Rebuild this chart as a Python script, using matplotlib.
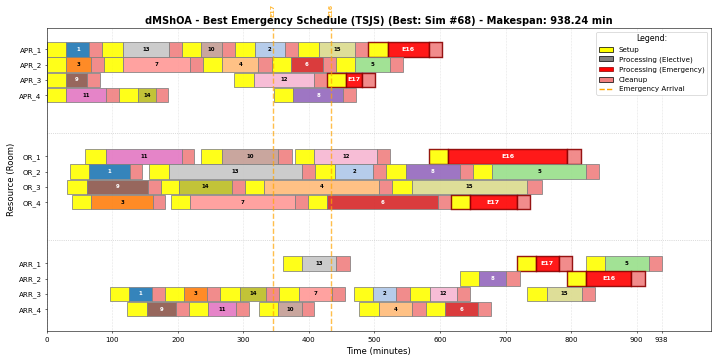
import numpy as np
import matplotlib
matplotlib.use("Agg")
import matplotlib.pyplot as plt
from matplotlib.patches import Patch
from matplotlib.lines import Line2D

## ************      Data       *********************
rooms = ["APR_1", "APR_2", "APR_3", "APR_4",
         "OR_1", "OR_2", "OR_3", "OR_4",
         "ARR_1", "ARR_2", "ARR_3", "ARR_4"]

# one entry per job: room, patient, setup start, processing start, processing end, cleanup end
job_room = ["APR_1"] * 6 + ["APR_2"] * 5 + ["APR_3"] * 3 + ["APR_4"] * 3 \
    + ["OR_1"] * 4 + ["OR_2"] * 5 + ["OR_3"] * 4 + ["OR_4"] * 4 \
    + ["ARR_1"] * 3 + ["ARR_2"] * 2 + ["ARR_3"] * 7 + ["ARR_4"] * 5
job_label = ["1", "13", "10", "2", "15", "E16",
             "3", "7", "4", "6", "5",
             "9", "12", "E17",
             "11", "14", "8",
             "11", "10", "12", "E16",
             "1", "13", "2", "8", "5",
             "9", "14", "4", "15",
             "3", "7", "6", "E17",
             "13", "E17", "5",
             "8", "E16",
             "1", "3", "14", "7", "2", "12", "15",
             "9", "11", "10", "4", "6"]
job_setup = [0, 85, 206, 287, 384, 490,
             0, 87, 239, 343, 441,
             0, 286, 428,
             0, 110, 346,
             59, 236, 378, 583,
             35, 156, 410, 518, 650,
             31, 174, 302, 527,
             38, 189, 398, 616,
             360, 717, 822,
             630, 794,
             97, 180, 265, 355, 468, 554, 733,
             123, 217, 324, 477, 578]
job_start = [30, 116, 236, 317, 415, 520,
             30, 117, 268, 372, 470,
             30, 316, 457,
             30, 140, 376,
             90, 267, 408, 612,
             65, 186, 440, 548, 680,
             62, 202, 332, 557,
             68, 219, 428, 645,
             390, 746, 852,
             660, 823,
             126, 210, 295, 385, 498, 584, 763,
             153, 246, 353, 507, 608]
job_end = [65, 186, 267, 364, 470, 583,
           67, 218, 323, 421, 523,
           62, 408, 481,
           90, 166, 452,
           206, 353, 504, 794,
           127, 390, 498, 630, 822,
           154, 282, 507, 733,
           162, 378, 597, 717,
           442, 781, 918,
           700, 892,
           160, 245, 334, 435, 533, 626, 817,
           197, 288, 389, 557, 658]
job_clean = [85, 206, 287, 384, 490, 603,
             87, 239, 343, 441, 543,
             82, 428, 501,
             110, 185, 472,
             225, 374, 524, 815,
             146, 410, 518, 650, 842,
             174, 302, 527, 755,
             181, 398, 616, 737,
             462, 801, 938.24,
             722, 912,
             180, 265, 355, 455, 554, 646, 837,
             217, 308, 408, 578, 678]

patient_colors = {"1": "#1f77b4", "2": "#aec7e8", "3": "#ff7f0e", "4": "#ffbb78",
                  "5": "#98df8a", "6": "#d62728", "7": "#ff9896", "8": "#9467bd",
                  "9": "#8c564b", "10": "#c49c94", "11": "#e377c2", "12": "#f7b6d2",
                  "13": "#c7c7c7", "14": "#bcbd22", "15": "#dbdb8d"}
white_text = ["1", "6", "8", "9"]

emerg_labels = ["E17", "E16"]
emerg_arrival = [345.5, 433]

makespan = 938.24
xticks = [0, 100, 200, 300, 400, 500, 600, 700, 800, 900, 938]

## ************      Plot       *********************
fig, ax = plt.subplots(figsize=(14, 7.04), dpi=51)
fig.subplots_adjust(left=0.0654, right=0.9958, top=0.922, bottom=0.079)

room_y = {}
for i, r in enumerate(rooms):
    room_y[r] = (i // 4) * 7 + (i % 4)

h = 0.95
for k in range(len(job_label)):
    y = room_y[job_room[k]]
    lab = job_label[k]
    emerg = lab.startswith("E")
    if emerg:
        ec, lw, pc = "darkred", 2, "red"
    else:
        ec, lw, pc = "gray", 1.2, patient_colors[lab]
    ax.barh(y, job_start[k] - job_setup[k], left=job_setup[k], height=h,
            color="yellow", edgecolor=ec, linewidth=lw, alpha=0.9)
    ax.barh(y, job_end[k] - job_start[k], left=job_start[k], height=h,
            color=pc, edgecolor=ec, linewidth=lw, alpha=0.9)
    ax.barh(y, job_clean[k] - job_end[k], left=job_end[k], height=h,
            color="lightcoral", edgecolor=ec, linewidth=lw, alpha=0.9)
    tc = "white" if (emerg or lab in white_text) else "black"
    fs = 9 if emerg else 7.5
    ax.text((job_start[k] + job_end[k]) / 2, y, lab, ha="center", va="center",
            fontsize=fs, fontweight="bold", color=tc)

for lab, t in zip(emerg_labels, emerg_arrival):
    ax.axvline(t, color="orange", linestyle="--", linewidth=2, alpha=0.7)
    ax.text(t, -2.1, lab, rotation=90, ha="center", va="bottom", fontsize=9,
            color="orange", alpha=0.8, fontweight="bold", clip_on=False)

for sep in [5.5, 12.5]:
    ax.axhline(sep, color="gray", linestyle=":", linewidth=1, alpha=0.5)

ax.set_yticks([room_y[r] for r in rooms])
ax.set_yticklabels(rooms, fontsize=10)
ax.set_ylim(18.4, -1.4)
ax.set_xlim(0, makespan * 1.08)
ax.set_xticks(xticks)
ax.set_xticklabels([str(x) for x in xticks], fontsize=10)
ax.tick_params(axis="x", pad=5)
ax.grid(True, axis="x", linestyle=":", alpha=0.6)
ax.set_axisbelow(True)

ax.set_xlabel("Time (minutes)", fontsize=12, labelpad=6)
ax.set_ylabel("Resource (Room)", fontsize=12)
ax.set_title("dMShOA - Best Emergency Schedule (TSJS) (Best: Sim #68) - Makespan: 938.24 min",
             fontsize=14, fontweight="bold")

handles = [Patch(facecolor="yellow", edgecolor="black", label="Setup"),
           Patch(facecolor="gray", edgecolor="black", label="Processing (Elective)"),
           Patch(facecolor="red", edgecolor="darkred", label="Processing (Emergency)"),
           Patch(facecolor="lightcoral", edgecolor="black", label="Cleanup"),
           Line2D([0], [0], color="orange", linestyle="--", linewidth=2, label="Emergency Arrival")]
ax.legend(handles=handles, loc="upper right", fontsize=10, title="Legend:",
          title_fontsize=11, framealpha=0.9)

plt.savefig("out.png", dpi=51)
